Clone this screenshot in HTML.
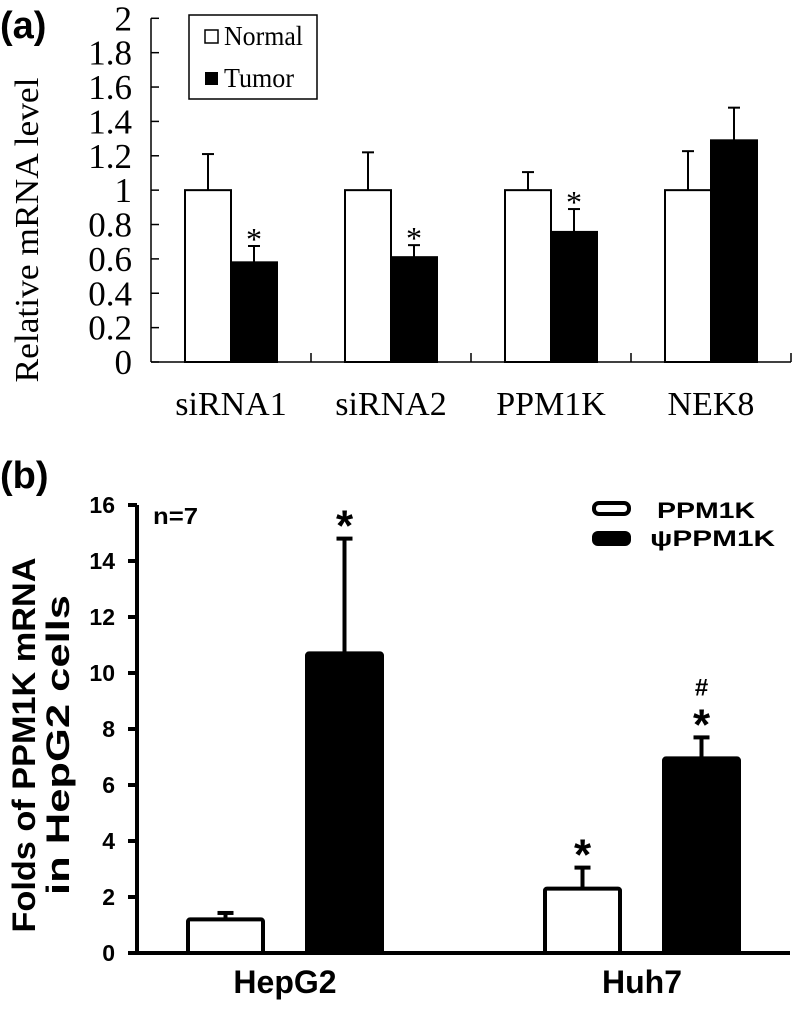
<!DOCTYPE html>
<html><head><meta charset="utf-8">
<style>
html,body{margin:0;padding:0;background:#fff;}
svg{display:block;}
</style></head>
<body>
<svg id="fig" width="800" height="1010" viewBox="0 0 800 1010" xmlns="http://www.w3.org/2000/svg">
  <text x="0" y="38" font-family="Liberation Sans, sans-serif" font-size="38" font-weight="bold">(a)</text>
  <text x="0" y="488" font-family="Liberation Sans, sans-serif" font-size="38" font-weight="bold">(b)</text>
  <g id="pa"></g>
  <g id="pb"></g>
</svg>
<script>
// Panel A data
const catsA = ["siRNA1","siRNA2","PPM1K","NEK8"];
const normalA = [1,1,1,1];
const normalErrA = [1.21,1.22,1.105,1.227];
const tumorA = [0.58,0.61,0.757,1.29];
const tumorErrA = [0.675,0.68,0.89,1.48];
const sigA = [true,true,true,false];
const ticksA = [0,0.2,0.4,0.6,0.8,1,1.2,1.4,1.6,1.8,2];
const tickLabelsA = ["0","0.2","0.4","0.6","0.8","1","1.2","1.4","1.6","1.8","2"];
// Panel B data
const catsB = ["HepG2","Huh7"];
const normalB = [1.2,2.3];
const normalErrB = [1.43,3.05];
const tumorB = [10.7,6.95];
const tumorErrB = [14.8,7.7];
const sigNormalB = [false,true];
const sigTumorB = [true,true];
const hashTumorB = [false,true];
const ticksB = [0,2,4,6,8,10,12,14,16];

const NS="http://www.w3.org/2000/svg";
function mk(parent,tag,attrs,text){const e=document.createElementNS(NS,tag);for(const k in attrs)e.setAttribute(k,attrs[k]);if(text!==undefined)e.textContent=text;parent.appendChild(e);return e;}

// ---------- Panel A ----------
(function(){
  const g=document.getElementById('pa');
  const x0=151, x1=791, y0=362, yTop=18.3, vmax=2;
  const yA=v=>y0-(v/vmax)*(y0-yTop);
  const grp=(x1-x0)/catsA.length;
  const bw=46;
  const serif="Liberation Serif, serif";
  let e;
  e=mk(g,'line',{x1:x0,y1:yA(2),x2:x0,y2:y0,stroke:'#000','stroke-width':1.5});
  
  e=mk(g,'line',{x1:x0,y1:y0,x2:x1,y2:y0,stroke:'#000','stroke-width':1.5});
  
  ticksA.forEach((t,i)=>{
    e=mk(g,'line',{x1:x0,y1:yA(t),x2:x0+8,y2:yA(t),stroke:'#000','stroke-width':1.5});
    
    e=mk(g,'text',{x:132,y:yA(t)+12,'text-anchor':'end','font-family':serif,'font-size':35},tickLabelsA[i]);
    
  });
  e=mk(g,'text',{x:0,y:0,transform:'translate(38,230) rotate(-90)','text-anchor':'middle','font-family':serif,'font-size':34,textLength:305,lengthAdjust:'spacingAndGlyphs'},'Relative mRNA level');
  
  catsA.forEach((c,i)=>{
    const cx=x0+grp*(i+0.5);
    const xe=x0+grp*(i+1);
    e=mk(g,'line',{x1:xe,y1:y0,x2:xe,y2:y0-9,stroke:'#000','stroke-width':1.5});
    
    e=mk(g,'line',{x1:cx-bw/2,y1:yA(normalErrA[i]),x2:cx-bw/2,y2:yA(normalA[i]),stroke:'#000','stroke-width':2});
    
    e=mk(g,'line',{x1:cx-bw/2-6,y1:yA(normalErrA[i]),x2:cx-bw/2+6,y2:yA(normalErrA[i]),stroke:'#000','stroke-width':2});
    
    e=mk(g,'rect',{x:cx-bw,y:yA(normalA[i]),width:bw,height:y0-yA(normalA[i]),fill:'#fff',stroke:'#000','stroke-width':2});
    
    e=mk(g,'line',{x1:cx+bw/2,y1:yA(tumorErrA[i]),x2:cx+bw/2,y2:yA(tumorA[i]),stroke:'#000','stroke-width':2});
    
    e=mk(g,'line',{x1:cx+bw/2-6,y1:yA(tumorErrA[i]),x2:cx+bw/2+6,y2:yA(tumorErrA[i]),stroke:'#000','stroke-width':2});
    
    e=mk(g,'rect',{x:cx,y:yA(tumorA[i]),width:bw,height:y0-yA(tumorA[i]),fill:'#000',stroke:'#000','stroke-width':2});
    
    if(sigA[i]){
      e=mk(g,'text',{x:cx+bw/2,y:yA(tumorErrA[i])+4,'text-anchor':'middle','font-family':serif,'font-size':32},'*');
      
    }
    e=mk(g,'text',{x:cx,y:415,'text-anchor':'middle','font-family':serif,'font-size':34},c);
    
  });
  e=mk(g,'rect',{x:189,y:15,width:128,height:84,fill:'#fff',stroke:'#000','stroke-width':1.5});
  
  e=mk(g,'rect',{x:205,y:30,width:13,height:13,fill:'#fff',stroke:'#000','stroke-width':1.5});
  
  e=mk(g,'text',{x:224,y:45,'font-family':serif,'font-size':27,textLength:79,lengthAdjust:'spacingAndGlyphs'},'Normal');
  
  e=mk(g,'rect',{x:205,y:72,width:13,height:13,fill:'#000'});
  
  e=mk(g,'text',{x:224,y:87,'font-family':serif,'font-size':27,textLength:70,lengthAdjust:'spacingAndGlyphs'},'Tumor');
  
})();

// ---------- Panel B ----------
(function(){
  const g=document.getElementById('pb');
  const x0=137, x1=790, y0=953, yTop=505, vmax=16;
  const yB=v=>y0-(v/vmax)*(y0-yTop);
  const sans="Liberation Sans, sans-serif";
  const bw=75;
  const centers=[285,642];
  let e;
  e=mk(g,'line',{x1:x0,y1:yTop,x2:x0,y2:y0,stroke:'#000','stroke-width':4});
  
  e=mk(g,'line',{x1:x0-8,y1:y0,x2:x1,y2:y0,stroke:'#000','stroke-width':4});
  
  ticksB.forEach(t=>{
    e=mk(g,'line',{x1:x0-9,y1:yB(t),x2:x0,y2:yB(t),stroke:'#000','stroke-width':4});
    
    e=mk(g,'text',{x:115,y:yB(t)+8,'text-anchor':'end','font-family':sans,'font-size':23,'font-weight':'bold'},String(t));
    
  });
  e=mk(g,'text',{x:0,y:0,transform:'translate(35,745) rotate(-90)','text-anchor':'middle','font-family':sans,'font-size':32,'font-weight':'bold',textLength:375,lengthAdjust:'spacingAndGlyphs'},'Folds of PPM1K mRNA');
  
  e=mk(g,'text',{x:0,y:0,transform:'translate(69,745) rotate(-90)','text-anchor':'middle','font-family':sans,'font-size':32,'font-weight':'bold',textLength:300,lengthAdjust:'spacingAndGlyphs'},'in HepG2 cells');
  
  e=mk(g,'text',{x:153,y:524,'font-family':sans,'font-size':23,'font-weight':'bold',textLength:45,lengthAdjust:'spacingAndGlyphs'},'n=7');
  
  catsB.forEach((c,i)=>{
    const cx=centers[i];
    const xn=cx-97, xt=cx+22;
    const nm=xn+bw/2, tm=xt+bw/2;
    e=mk(g,'line',{x1:nm,y1:yB(normalErrB[i]),x2:nm,y2:yB(normalB[i]),stroke:'#000','stroke-width':4});
    
    e=mk(g,'line',{x1:nm-8,y1:yB(normalErrB[i]),x2:nm+8,y2:yB(normalErrB[i]),stroke:'#000','stroke-width':4});
    
    e=mk(g,'rect',{x:xn,y:yB(normalB[i]),width:bw,height:y0-yB(normalB[i]),fill:'#fff',stroke:'#000','stroke-width':4,rx:2});
    
    e=mk(g,'line',{x1:tm,y1:yB(tumorErrB[i]),x2:tm,y2:yB(tumorB[i]),stroke:'#000','stroke-width':4});
    
    e=mk(g,'line',{x1:tm-8,y1:yB(tumorErrB[i]),x2:tm+8,y2:yB(tumorErrB[i]),stroke:'#000','stroke-width':4});
    
    e=mk(g,'rect',{x:xt,y:yB(tumorB[i]),width:bw,height:y0-yB(tumorB[i]),fill:'#000',stroke:'#000','stroke-width':4,rx:2});
    
    if(sigNormalB[i]){
      e=mk(g,'text',{x:nm,y:yB(normalErrB[i])+2,'text-anchor':'middle','font-family':sans,'font-size':44,'font-weight':'bold'},'*');
      
    }
    if(sigTumorB[i]){
      e=mk(g,'text',{x:tm,y:yB(tumorErrB[i])+2,'text-anchor':'middle','font-family':sans,'font-size':44,'font-weight':'bold'},'*');
      
    }
    if(hashTumorB[i]){
      e=mk(g,'text',{x:tm,y:yB(tumorErrB[i])-42,'text-anchor':'middle','font-family':sans,'font-size':24,'font-weight':'bold'},'#');
      
    }
    e=mk(g,'text',{x:cx,y:993,'text-anchor':'middle','font-family':sans,'font-size':32,'font-weight':'bold'},c);
    
  });
  e=mk(g,'rect',{x:594,y:503,width:35,height:11,fill:'#fff',stroke:'#000','stroke-width':4,rx:5});
  
  e=mk(g,'text',{x:657,y:518,'font-family':sans,'font-size':22,'font-weight':'bold',textLength:98,lengthAdjust:'spacingAndGlyphs'},'PPM1K');
  
  e=mk(g,'rect',{x:592,y:531,width:39,height:15,fill:'#000',rx:6});
  
  e=mk(g,'text',{x:650,y:546,'font-family':sans,'font-size':22,'font-weight':'bold',textLength:125,lengthAdjust:'spacingAndGlyphs'},'ψPPM1K');
  
})();
</script>
</body></html>
